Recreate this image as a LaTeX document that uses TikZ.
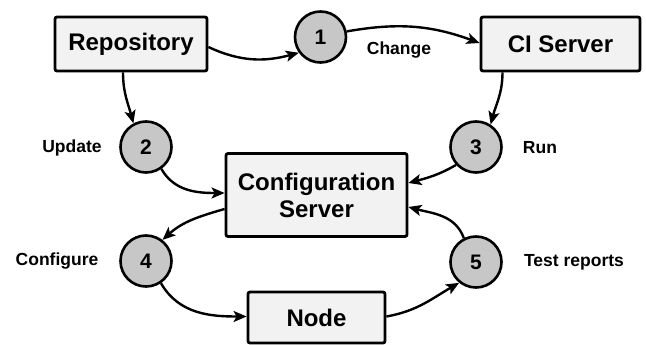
\documentclass[tikz,border=0pt]{standalone}
\usepackage{fontspec}
\setmainfont{Liberation Sans}
\usetikzlibrary{arrows.meta}
\begin{document}
\begin{tikzpicture}[x=1pt,y=1pt,
  box/.style={draw=black, line width=2.8pt, fill=black!5, rounded corners=2pt,
    font=\bfseries\fontsize{24}{27}\selectfont, align=center, inner sep=0pt},
  stepcirc/.style={circle, draw=black, line width=2.6pt, fill=black!22,
    minimum size=51pt, inner sep=0pt, font=\bfseries\fontsize{21}{21}\selectfont},
  lbl/.style={font=\bfseries\fontsize{17.5}{18}\selectfont, inner sep=0pt},
  conn/.style={line width=2.4pt, -{Stealth[length=13pt,width=11pt,inset=3pt]}}
]
\useasboundingbox (0,0) rectangle (646,-345);

% boxes
\node[box, minimum width=152pt, minimum height=54pt] (repo) at (131,-44) {Repository};
\node[box, minimum width=159pt, minimum height=54pt] (ci) at (560.5,-44) {CI Server};
\node[box, minimum width=181pt, minimum height=83pt] (cfg) at (316.5,-195) {Configuration\\Server};
\node[box, minimum width=137pt, minimum height=51pt] (nd) at (316.5,-317.5) {Node};

% numbered steps
\node[stepcirc] (c1) at (320.5,-37) {1};
\node[stepcirc] (c2) at (146,-147) {2};
\node[stepcirc] (c3) at (476,-147) {3};
\node[stepcirc] (c4) at (146,-261) {4};
\node[stepcirc] (c5) at (476,-262) {5};

% step labels
\node[lbl] (lchange) at (399,-50) {Change};
\node[lbl] (lupdate) at (72,-148) {Update};
\node[lbl] (lrun) at (540,-148) {Run};
\node[lbl] (lconf) at (57,-261) {Configure};
\node[lbl] (ltest) at (574,-262) {Test reports};

% connectors
\draw[conn] ([yshift=-3pt]repo.east) to[out=-25, in=195] (c1.216);
\draw[conn] (c1.12) to[out=10, in=160] ([yshift=1pt]ci.west);
\draw[conn] ([xshift=-8pt]repo.south) to[out=-90, in=105] (c2.118);
\draw[conn] ([xshift=-58pt]ci.south) to[out=-90, in=75] (c3.57);
\draw[conn] (c2.-55) to[out=-60, in=180] ([yshift=2pt]cfg.west);
\draw[conn] (c3.222) to[out=210, in=15] ([yshift=12pt]cfg.east);
\draw[conn] ([yshift=-14pt]cfg.west) to[out=196, in=42] (c4.52);
\draw[conn] (c4.-56) to[out=-60, in=180] ([yshift=1pt]nd.west);
\draw[conn] ([yshift=1pt]nd.east) to[out=10, in=210] (c5.231);
\draw[conn] (c5.117) to[out=110, in=-15] ([yshift=-12pt]cfg.east);
\end{tikzpicture}
\end{document}
